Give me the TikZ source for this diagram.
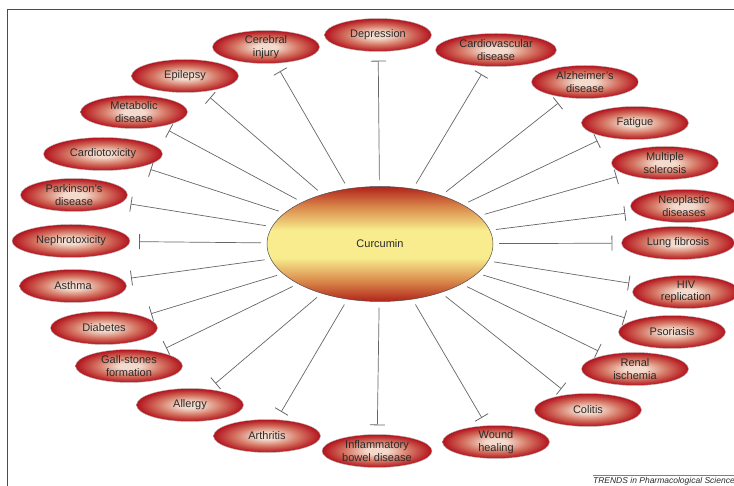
\documentclass[tikz,border=0pt]{standalone}
\usepackage{fontspec}
\setmainfont{Liberation Sans}
\usepackage{tikz}
\usetikzlibrary{shapes.geometric, arrows.meta}
\usepackage{xcolor}

\definecolor{dred}{HTML}{B3121C}
\definecolor{dmid}{HTML}{D47462}
\definecolor{dlight}{HTML}{F3DACC}
\definecolor{ctop}{HTML}{B1221A}
\definecolor{corange}{HTML}{DA8A4C}
\definecolor{cmid}{HTML}{F8EC8E}
\definecolor{txt}{HTML}{2A2A2A}
\definecolor{wire}{HTML}{666666}
\pgfdeclareradialshading{redball}{\pgfpoint{0bp}{0bp}}{color(0bp)=(dlight); color(5bp)=(dlight); color(15bp)=(dmid); color(25bp)=(dred); color(50bp)=(dred)}
\pgfdeclareverticalshading{curcband}{100bp}{color(0bp)=(ctop); color(25bp)=(ctop); color(34bp)=(corange); color(44bp)=(cmid); color(56bp)=(cmid); color(66bp)=(corange); color(75bp)=(ctop); color(100bp)=(ctop)}

\begin{document}
\begin{tikzpicture}[x=1pt,y=-1pt,
    every node/.style={font=\fontsize{11}{12.5}\selectfont, text=txt, align=center},
    disease/.style={ellipse, shading=redball, draw=gray!55, line width=0.4pt,
        minimum width=107pt, minimum height=33pt, inner sep=0pt},
    drug/.style={ellipse, draw=black!70, line width=0.5pt, shading=curcband,
        minimum width=226pt, minimum height=115pt},
    inhib/.style={draw=wire, line width=0.7pt, -{Bar[width=15pt, line width=0.8pt]},
        shorten <=6pt, shorten >=9pt}]
    \useasboundingbox (0,0) rectangle (734,486);
    % frame
    \draw[black!70, line width=0.6pt] (734,9) -- (7,9) -- (7,486);

    \node[drug] (cur) at (380,244) {Curcumin};

    % diseases, clockwise from the top
    \node[disease] (dep) at (378,35)  {Depression};
    \node[disease, minimum width=121pt] (cvd) at (496,50) {Cardiovascular\\disease};
    \node[disease] (alz) at (585,82)  {Alzheimer's\\disease};
    \node[disease] (fat) at (635,123) {Fatigue};
    \node[disease] (mul) at (665,163) {Multiple\\sclerosis};
    \node[disease] (neo) at (684,206) {Neoplastic\\diseases};
    \node[disease, minimum width=113pt] (lun) at (678,243) {Lung fibrosis};
    \node[disease] (hiv) at (686,292) {HIV\\replication};
    \node[disease] (pso) at (672,332) {Psoriasis};
    \node[disease] (ren) at (635,369) {Renal\\ischemia};
    \node[disease] (col) at (588,410) {Colitis};
    \node[disease] (wou) at (496,442) {Wound\\healing};
    \node[disease, minimum width=110pt] (ibd) at (377,451) {Inflammatory\\bowel disease};
    \node[disease] (art) at (267,436) {Arthritis};
    \node[disease] (alg) at (190,405) {Allergy};
    \node[disease] (gal) at (129,366) {Gall-stones\\formation};
    \node[disease] (dia) at (104,328) {Diabetes};
    \node[disease] (ast) at (73,286)  {Asthma};
    \node[disease, minimum width=118pt] (nep) at (71,241) {Nephrotoxicity};
    \node[disease] (par) at (74,195)  {Parkinson's\\disease};
    \node[disease, minimum width=119pt] (ctx) at (103,154) {Cardiotoxicity};
    \node[disease] (met) at (134,112) {Metabolic\\disease};
    \node[disease] (epi) at (185,76)  {Epilepsy};
    \node[disease] (cer) at (266,47)  {Cerebral\\injury};

    \path[inhib] (cur) edge (dep) edge (cvd) edge (alz) edge (fat) edge (mul)
        edge (neo) edge (lun) edge (hiv) edge (pso) edge (ren) edge (col)
        edge (wou) edge (ibd) edge (art) edge (alg) edge (gal) edge (dia)
        edge (ast) edge (nep) edge (par) edge (ctx) edge (met) edge (epi) edge (cer);

    % credit line
    \coordinate (crl) at (593,475);
    \coordinate (crr) at (734,475);
    \draw[gray, line width=0.5pt] (crl) -- (crr);
    \node[anchor=north east, inner sep=0pt, font=\fontsize{8.5}{10}\itshape] (cred) at (735,477)
        {TRENDS in Pharmacological Science};
\end{tikzpicture}
\end{document}
